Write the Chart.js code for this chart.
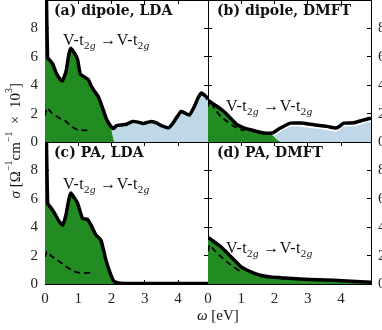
<!DOCTYPE html>
<html>
<head>
<meta charset="utf-8">
<script src="https://cdn.jsdelivr.net/npm/chart.js@4"></script>
<style>
  body { margin: 0; background: #fff; }
  #wrap { position: relative; width: 382px; height: 330px; overflow: hidden; background: #fff; }
  canvas { position: absolute; }
  .lbl { position: absolute; font-family: 'Liberation Serif', serif; color: #111; white-space: nowrap; }
  .title { font-family: 'DejaVu Serif', serif; font-weight: bold; font-size: 14px; }
  .note { font-size: 16px; letter-spacing: 0.4px; }
  .note sub { font-size: 11px; }
  #ybox { position: absolute; left: 0; top: 0; width: 26px; height: 282px; display: flex; align-items: center; justify-content: center; }
  #ylab { font-family: 'Liberation Serif', serif; font-size: 15px; color: #111; white-space: nowrap; writing-mode: vertical-rl; transform: rotate(180deg); }
  #ylab sup { font-size: 10px; }
</style>
</head>
<body>
<div id="wrap">
  <canvas id="cA" width="212" height="146" style="left:0;top:0"></canvas>
  <canvas id="cB" width="178" height="146" style="left:204px;top:0"></canvas>
  <canvas id="cC" width="212" height="192" style="left:0;top:138px"></canvas>
  <canvas id="cD" width="178" height="192" style="left:204px;top:138px"></canvas>

  <div class="lbl title" style="left:54px;top:2px">(a) dipole, LDA</div>
  <div class="lbl title" style="left:217px;top:2px">(b) dipole, DMFT</div>
  <div class="lbl title" style="left:54px;top:144px">(c) PA, LDA</div>
  <div class="lbl title" style="left:217px;top:144px">(d) PA, DMFT</div>

  <div class="lbl note" style="left:63px;top:31px">V-t<sub>2<i>g</i></sub> &#8594;V-t<sub>2<i>g</i></sub></div>
  <div class="lbl note" style="left:226px;top:97px">V-t<sub>2<i>g</i></sub> &#8594;V-t<sub>2<i>g</i></sub></div>
  <div class="lbl note" style="left:63px;top:175px">V-t<sub>2<i>g</i></sub> &#8594;V-t<sub>2<i>g</i></sub></div>
  <div class="lbl note" style="left:226px;top:239px">V-t<sub>2<i>g</i></sub> &#8594;V-t<sub>2<i>g</i></sub></div>

  <div class="lbl" style="left:197px;top:307px;font-size:15px"><i>&#969;</i> [eV]</div>
  <div id="ybox"><span id="ylab"><i>&#963;</i> [&#937;<sup>&#8722;1</sup>cm<sup>&#8722;1</sup> &#215; 10<sup>3</sup>]</span></div>
</div>
<script>
// (a) dipole, LDA
const wTotA = [0, 0.03, 0.08, 0.15, 0.23, 0.33, 0.43, 0.52, 0.63, 0.72, 0.78, 0.9, 0.98, 1.06, 1.2, 1.3, 1.38, 1.48, 1.6, 1.7, 1.85, 1.98, 2.06, 2.15, 2.3, 2.45, 2.63, 2.8, 2.95, 3.1, 3.2, 3.35, 3.5, 3.72, 3.84, 3.95, 4.09, 4.2, 4.34, 4.49, 4.6, 4.7, 4.84, 4.9];
const totA  = [14, 12, 5.9, 5.75, 5.5, 4.9, 4.5, 4.3, 4.95, 6.2, 6.6, 6.2, 5.8, 4.8, 4.55, 4.4, 4.0, 3.6, 3.2, 2.6, 1.6, 1.1, 0.95, 1.15, 1.2, 1.25, 1.45, 1.4, 1.3, 1.4, 1.45, 1.35, 1.15, 1.0, 1.3, 1.7, 2.15, 2.05, 1.9, 2.5, 3.1, 3.45, 3.2, 3.0];
const wGreenA = [0, 0.03, 0.08, 0.15, 0.23, 0.33, 0.43, 0.52, 0.63, 0.72, 0.78, 0.9, 0.98, 1.06, 1.2, 1.3, 1.38, 1.48, 1.6, 1.7, 1.85, 1.98, 2.03, 2.08];
const greenA  = [14, 12, 5.9, 5.75, 5.5, 4.9, 4.5, 4.3, 4.95, 6.2, 6.6, 6.2, 5.8, 4.8, 4.55, 4.4, 4.0, 3.6, 3.2, 2.6, 1.6, 1.0, 0.45, 0];
const wBlueA = [1.9, 1.98, 2.06, 2.15, 2.3, 2.45, 2.63, 2.8, 2.95, 3.1, 3.2, 3.35, 3.5, 3.72, 3.84, 3.95, 4.09, 4.2, 4.34, 4.49, 4.6, 4.7, 4.84, 4.9];
const blueA  = [1.4, 1.1, 0.95, 1.15, 1.2, 1.25, 1.45, 1.4, 1.3, 1.4, 1.45, 1.35, 1.15, 1.0, 1.3, 1.7, 2.15, 2.05, 1.9, 2.5, 3.1, 3.45, 3.2, 3.0];
const wDashA = [0.0, 0.06, 0.2, 0.43, 0.63, 0.78, 0.98, 1.18, 1.4];
const dashA  = [1.85, 2.4, 2.05, 1.68, 1.45, 1.1, 0.86, 0.82, 0.88];

// (b) dipole, DMFT
const wTotB = [0, 0.05, 0.28, 0.45, 0.58, 0.75, 0.88, 1.08, 1.28, 1.5, 1.68, 1.93, 2.05, 2.18, 2.35, 2.48, 2.78, 3.18, 3.58, 3.83, 3.95, 4.08, 4.38, 4.69, 4.9];
const totB  = [2.95, 2.85, 2.5, 2.2, 1.92, 1.5, 1.21, 1.0, 0.86, 0.72, 0.63, 0.63, 0.8, 0.98, 1.2, 1.33, 1.33, 1.21, 1.1, 0.98, 1.1, 1.33, 1.35, 1.56, 1.68];
const wGreenB = [0, 0.05, 0.28, 0.45, 0.58, 0.75, 0.88, 1.08, 1.28, 1.5, 1.68, 1.85, 1.95, 2.05, 2.18];
const greenB  = [2.95, 2.85, 2.5, 2.2, 1.92, 1.5, 1.21, 1.0, 0.86, 0.72, 0.63, 0.6, 0.45, 0.2, 0];
const wBlueB = [1.8, 1.93, 2.05, 2.18, 2.35, 2.48, 2.78, 3.18, 3.58, 3.83, 3.95, 4.08, 4.38, 4.69, 4.9];
const blueB  = [0.3, 0.38, 0.55, 0.73, 0.95, 1.08, 1.08, 0.96, 0.85, 0.73, 0.85, 1.08, 1.1, 1.31, 1.43];
const wDashB = [0.0, 0.05, 0.2, 0.38, 0.6, 0.78, 1.0, 1.1];
const dashB  = [2.5, 2.95, 2.35, 1.8, 1.4, 1.1, 0.86, 0.8];

// (c) PA, LDA
const wTotC = [0, 0.03, 0.08, 0.15, 0.23, 0.33, 0.43, 0.53, 0.63, 0.72, 0.78, 0.9, 0.98, 1.13, 1.28, 1.38, 1.53, 1.68, 1.83, 1.98, 2.08, 2.28, 2.6, 3.0, 3.5, 4.0, 4.5, 4.9];
const totC  = [14, 12, 5.68, 5.45, 5.2, 4.8, 4.4, 4.16, 4.86, 6.0, 6.4, 6.0, 5.7, 4.6, 4.55, 4.16, 3.46, 3.1, 1.7, 0.65, 0.18, 0.05, 0.03, 0.03, 0.03, 0.03, 0.03, 0.03];
const wDashC = [0.0, 0.06, 0.2, 0.43, 0.63, 0.88, 1.08, 1.25, 1.4];
const dashC  = [1.9, 2.3, 1.95, 1.59, 1.24, 0.89, 0.77, 0.78, 0.82];

// (d) PA, DMFT
const wTotD = [0, 0.05, 0.2, 0.38, 0.55, 0.68, 0.85, 0.98, 1.15, 1.38, 1.6, 1.88, 2.3, 2.78, 3.3, 3.78, 4.3, 4.9];
const totD  = [3.25, 3.2, 2.95, 2.64, 2.25, 1.94, 1.55, 1.24, 1.0, 0.77, 0.6, 0.49, 0.42, 0.35, 0.3, 0.27, 0.2, 0.13];
const wDashD = [0.0, 0.05, 0.2, 0.38, 0.68, 0.98, 1.05];
const dashD  = [2.3, 2.75, 2.35, 1.94, 1.35, 0.88, 0.85];

const xTicks = [0, 1, 2, 3, 4];
const yTicks = [0, 2, 4, 6, 8];

const green = '#228b22';
const blue = '#bfd8e8';

function pts(xs, ys) {
    return xs.map((x, i) => ({ x: x, y: ys[i] }));
}

// fixed axis sizes so the four plot areas line up exactly
function fixSize(prop, value) {
    return s => {
        s[prop] = value;
        s.paddingTop = 0;
        s.paddingBottom = 0;
        s.paddingLeft = 0;
        s.paddingRight = 0;
    };
}

function makeScales(showX, ySide, sizes) {
    const tickFont = { family: 'Liberation Serif', size: 15 };
    const grid = { drawOnChartArea: false, tickLength: -4, color: '#000', lineWidth: 1 };
    const border = { color: '#000', width: 1 };
    const xTickOpts = show => ({
        display: show, stepSize: 1, includeBounds: false, padding: 10,
        color: '#222', font: tickFont, maxRotation: 0,
        callback: v => xTicks.includes(v) ? String(v) : ''
    });
    const yTickOpts = show => ({
        display: show, stepSize: 2, includeBounds: false, padding: 11,
        color: '#222', font: tickFont,
        callback: v => yTicks.includes(v) ? String(v) : ''
    });
    return {
        x: { type: 'linear', position: 'bottom', min: 0, max: 4.9, grid: grid, border: border,
             ticks: xTickOpts(showX), afterFit: fixSize('height', sizes.bottom) },
        xTop: { type: 'linear', position: 'top', min: 0, max: 4.9, grid: grid, border: border,
             ticks: xTickOpts(false), afterFit: fixSize('height', sizes.top) },
        y: { type: 'linear', position: 'left', min: 0, max: 10, grid: grid, border: border,
             ticks: yTickOpts(ySide === 'left'), afterFit: fixSize('width', sizes.left) },
        yRight: { type: 'linear', position: 'right', min: 0, max: 10, grid: grid, border: border,
             ticks: yTickOpts(ySide === 'right'), afterFit: fixSize('width', sizes.right) }
    };
}

function lineSet(data, opts) {
    return Object.assign({
        data: data, xAxisID: 'x', yAxisID: 'y', pointRadius: 0,
        tension: 0.15, fill: false, borderWidth: 0
    }, opts);
}

function makePanel(id, parts, showX, ySide, sizes) {
    // first dataset is drawn on top
    const datasets = [
        lineSet(parts.dash, { borderColor: '#000', borderWidth: 1.8, borderDash: [6, 4] }),
        lineSet(parts.total, { borderColor: '#000', borderWidth: 3.5 }),
        lineSet(parts.green, { fill: 'origin', backgroundColor: green, borderColor: 'rgba(0,0,0,0)' })
    ];
    if (parts.blue) {
        datasets.push(lineSet(parts.blue, { fill: 'origin', backgroundColor: blue, borderColor: 'rgba(0,0,0,0)' }));
    }
    return new Chart(document.getElementById(id), {
        type: 'line',
        data: { datasets: datasets },
        options: {
            responsive: false,
            animation: false,
            plugins: { legend: { display: false }, tooltip: { enabled: false } },
            layout: { padding: 0, autoPadding: false },
            scales: makeScales(showX, ySide, sizes)
        }
    });
}

makePanel('cA', {
    total: pts(wTotA, totA), green: pts(wGreenA, greenA),
    blue: pts(wBlueA, blueA), dash: pts(wDashA, dashA)
}, false, 'left', { left: 45, right: 4, top: 0, bottom: 4 });

makePanel('cB', {
    total: pts(wTotB, totB), green: pts(wGreenB, greenB),
    blue: pts(wBlueB, blueB), dash: pts(wDashB, dashB)
}, false, 'right', { left: 4, right: 11, top: 0, bottom: 4 });

makePanel('cC', {
    total: pts(wTotC, totC), green: pts(wTotC, totC), dash: pts(wDashC, dashC)
}, true, 'left', { left: 45, right: 4, top: 4, bottom: 46 });

makePanel('cD', {
    total: pts(wTotD, totD), green: pts(wTotD, totD), dash: pts(wDashD, dashD)
}, true, 'right', { left: 4, right: 11, top: 4, bottom: 46 });
</script>
</body>
</html>
